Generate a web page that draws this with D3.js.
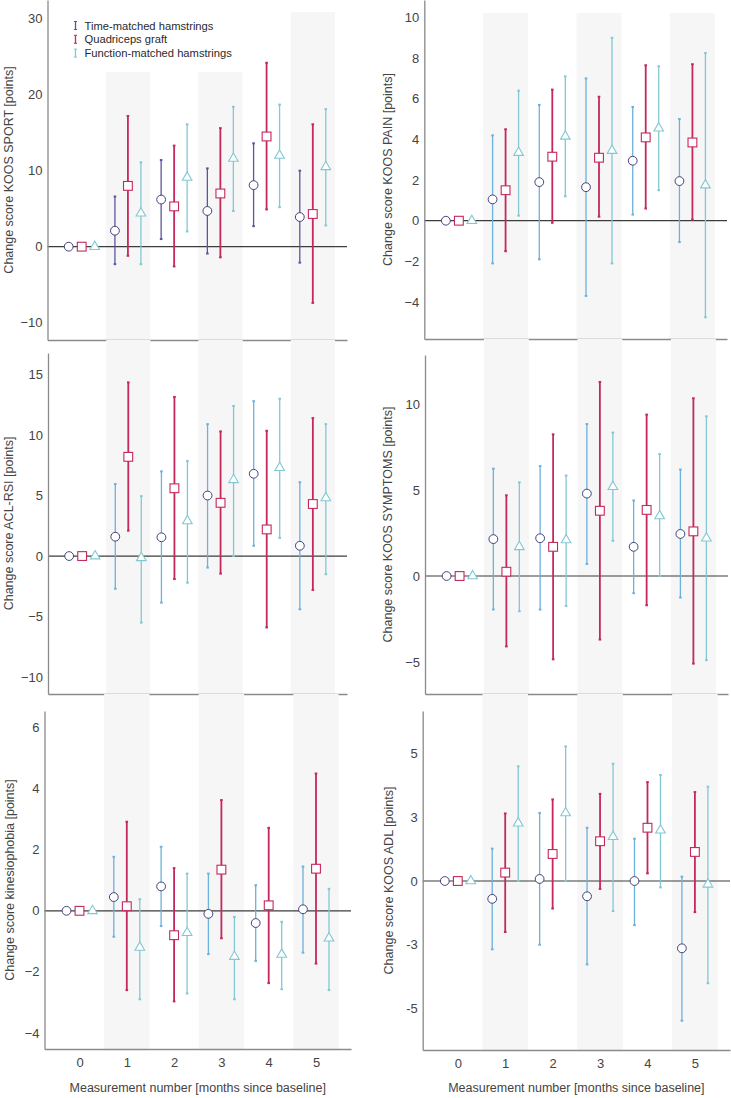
<!DOCTYPE html>
<html>
<head>
<meta charset="utf-8">
<script src="https://cdn.jsdelivr.net/npm/d3@7"></script>
<style>
  body { margin: 0; background: #fff; }
  text { font-family: "Liberation Sans", Arial, sans-serif; }
</style>
</head>
<body>
<div id="chart"></div>
<script>
(function () {

  // measurement numbers on the x axis
  const categories = [0, 1, 2, 3, 4, 5];
  const groups = ['Time-matched hamstrings', 'Quadriceps graft', 'Function-matched hamstrings'];
  const shaded = [1, 3, 5];

  // each panel: rows are [time-matched, quadriceps, function-matched]
  const sportMean = [[0, 2.1, 6.2, 4.7, 8.1, 3.9], [0, 8.0, 5.3, 7.0, 14.5, 4.3], [0, 4.4, 9.1, 11.6, 12.0, 10.5]];
  const sportLow = [[0, -2.3, 1.0, -0.9, 2.7, -2.1], [0, -1.2, -2.6, -1.4, 4.9, -7.4], [0, -2.3, 2.0, 4.7, 5.2, 2.8]];
  const sportHigh = [[0, 6.6, 11.4, 10.3, 13.6, 10.0], [0, 17.2, 13.3, 15.6, 24.2, 16.1], [0, 11.1, 16.1, 18.4, 18.7, 18.1]];

  const painMean = [[0, 1.05, 1.9, 1.65, 2.95, 1.95], [0, 1.5, 3.15, 3.1, 4.1, 3.85], [0, 3.35, 4.15, 3.45, 4.55, 1.75]];
  const painLow = [[0, -2.1, -1.9, -3.7, 0.3, -1.05], [0, -1.5, -0.1, 0.2, 0.6, 0.05], [0, 0.25, 1.2, -2.1, 1.5, -4.75]];
  const painHigh = [[0, 4.2, 5.7, 7.0, 5.6, 5.0], [0, 4.5, 6.45, 6.1, 7.65, 7.7], [0, 6.4, 7.1, 9.0, 7.6, 8.25]];

  const aclMean = [[0, 1.6, 1.55, 5.0, 6.8, 0.85], [0, 8.2, 5.6, 4.4, 2.2, 4.3], [0, -0.15, 2.9, 6.3, 7.3, 4.8]];
  const aclLow = [[0, -2.7, -3.85, -0.95, 0.85, -4.4], [0, 2.1, -1.9, -1.45, -5.9, -2.8], [0, -5.5, -2.2, 0.0, 1.5, -1.5]];
  const aclHigh = [[0, 5.95, 7.0, 10.9, 12.8, 6.1], [0, 14.35, 13.15, 10.3, 10.35, 11.4], [0, 4.95, 7.85, 12.4, 13.0, 10.9]];

  const sympMean = [[0, 2.15, 2.2, 4.8, 1.7, 2.45], [0, 0.25, 1.7, 3.8, 3.85, 2.6], [0, 1.7, 2.1, 5.2, 3.5, 2.2]];
  const sympLow = [[0, -1.95, -1.95, 0.7, -1.0, -1.25], [0, -4.1, -4.85, -3.7, -1.7, -5.1], [0, -2.05, -1.75, 2.05, 0.0, -4.9]];
  const sympHigh = [[0, 6.25, 6.4, 8.85, 4.4, 6.2], [0, 4.7, 8.25, 11.3, 9.4, 10.35], [0, 5.45, 5.85, 8.35, 7.1, 9.3]];

  const kinMean = [[0, 0.45, 0.8, -0.1, -0.4, 0.05], [0, 0.15, -0.8, 1.35, 0.18, 1.38], [0, -1.2, -0.72, -1.5, -1.43, -0.9]];
  const kinLow = [[0, -0.85, -0.5, -1.42, -1.64, -1.37], [0, -2.6, -2.97, -0.9, -2.37, -1.73], [0, -2.9, -2.71, -2.9, -2.57, -2.6]];
  const kinHigh = [[0, 1.77, 2.1, 1.22, 0.84, 1.45], [0, 2.92, 1.4, 3.63, 2.72, 4.5], [0, 0.38, 1.22, -0.2, -0.36, 0.72]];

  const adlMean = [[0, -0.7, 0.08, -0.6, 0.0, -2.64], [0, 0.33, 1.06, 1.56, 2.09, 1.14], [0, 2.27, 2.67, 1.74, 1.99, -0.13]];
  const adlLow = [[0, -2.68, -2.5, -3.27, -1.73, -5.48], [0, -2.0, -1.08, -0.31, 0.3, -1.22], [0, 0.0, 0.0, -1.18, -0.25, -4.01]];
  const adlHigh = [[0, 1.27, 2.67, 2.09, 1.66, 0.17], [0, 2.65, 3.2, 3.42, 3.88, 3.49], [0, 4.5, 5.28, 4.6, 4.16, 3.7]];

  // y tick values and their printed labels
  const sportTicks = [-10, 0, 10, 20, 30];
  const painTicks = [-4, -2, 0, 2, 4, 6, 8, 10];
  const aclTicks = [-10, -5, 0, 5, 10, 15];
  const sympTicks = [-5, 0, 5, 10];
  const kinTicks = [-4, -2, 0, 2, 4, 6];
  const adlTicks = [-5, -2.5, 0, 2.5, 5];
  const adlTickLabels = ['-5', '-3', '0', '3', '5'];

  const titles = [
    'Change score KOOS SPORT [points]',
    'Change score KOOS PAIN [points]',
    'Change score ACL-RSI [points]',
    'Change score KOOS SYMPTOMS [points]',
    'Change score kinesiophobia [points]',
    'Change score KOOS ADL [points]'
  ];
  const xTitle = 'Measurement number [months since baseline]';

  const W = 731, H = 1098;

  const svg = d3.select('#chart')
    .append('svg')
    .attr('width', W)
    .attr('height', H)
    .style('display', 'block');

  // panel placement: plot box, y domain, title position
  const panels = [
    { mean: sportMean, low: sportLow, high: sportHigh, ticks: sportTicks, title: titles[0],
      x0: 47.5, x1: 347, y0: 0, y1: 340, bandTop: 12, dom: [-12.28, 32.46], tx: 8.5, legend: true, timeColor: '#5b55a0' },
    { mean: painMean, low: painLow, high: painHigh, ticks: painTicks, title: titles[1],
      x0: 424.3, x1: 727, y0: 0, y1: 339, bandTop: 13, dom: [-5.82, 10.86], tx: 388 },
    { mean: aclMean, low: aclLow, high: aclHigh, ticks: aclTicks, title: titles[2],
      x0: 48, x1: 347, y0: 353, y1: 694, bandTop: 340, dom: [-11.4, 16.78], tx: 8.5 },
    { mean: sympMean, low: sympLow, high: sympHigh, ticks: sympTicks, title: titles[3],
      x0: 425, x1: 728, y0: 355, y1: 694, bandTop: 339, dom: [-6.87, 12.87], tx: 387.5 },
    { mean: kinMean, low: kinLow, high: kinHigh, ticks: kinTicks, title: titles[4],
      x0: 44.5, x1: 351, y0: 711, y1: 1049, bandTop: 694, dom: [-4.53, 6.55], tx: 10, bottom: true },
    { mean: adlMean, low: adlLow, high: adlHigh, ticks: adlTicks, labels: adlTickLabels, title: titles[5],
      x0: 422.7, x1: 730, y0: 711, y1: 1050, bandTop: 694, dom: [-6.63, 6.67], tx: 388.5, bottom: true }
  ];

  const quadColor = '#c4285c';
  const funcColor = '#82c8d3';
  const circleColor = '#44427f';
  const offsets = [-13, 0, 13];

  panels.forEach(p => drawPanel(p));

  function drawPanel(p) {

    const g = svg.append('g');

    const x = d3.scalePoint()
      .domain(categories)
      .range([p.x0, p.x1])
      .padding(0.74);

    const y = d3.scaleLinear()
      .domain(p.dom)
      .range([p.y1, p.y0]);

    const bw = x.step() * 0.96;

    // alternating grey columns
    g.append('g')
      .selectAll('rect')
      .data(shaded)
      .join('rect')
      .attr('x', d => x(d) - bw / 2)
      .attr('y', p.bandTop)
      .attr('width', bw)
      .attr('height', p.y1 - p.bandTop)
      .attr('fill', '#f6f6f6');

    // zero reference line
    g.append('line')
      .attr('x1', p.x0)
      .attr('x2', p.x1)
      .attr('y1', y(0))
      .attr('y2', y(0))
      .attr('stroke', '#3c3c3c')
      .attr('stroke-width', 1.2);

    // y axis
    const yAxis = d3.axisLeft(y)
      .tickValues(p.ticks)
      .tickSize(0)
      .tickPadding(5)
      .tickFormat((d, i) => p.labels ? p.labels[i] : d3.format('d')(d));

    const ya = g.append('g')
      .attr('transform', `translate(${p.x0},0)`)
      .call(yAxis);
    ya.select('.domain').attr('stroke', '#8a8a8a').attr('stroke-width', 1.3);
    ya.selectAll('text')
      .attr('font-size', 13)
      .attr('fill', '#444')
      .style('font-family', '"Liberation Sans", Arial, sans-serif');

    // x axis, labels only on the bottom row
    const xAxis = d3.axisBottom(x)
      .tickSize(0)
      .tickSizeOuter(0)
      .tickPadding(9)
      .tickFormat(d => p.bottom ? d : '');

    const xa = g.append('g')
      .attr('transform', `translate(0,${p.y1})`)
      .call(xAxis);
    xa.select('.domain').attr('stroke', '#8a8a8a').attr('stroke-width', 1.3);
    xa.selectAll('text')
      .attr('font-size', 13)
      .attr('fill', '#444')
      .style('font-family', '"Liberation Sans", Arial, sans-serif');

    // y title
    g.append('text')
      .attr('transform', `translate(${p.tx},${(p.y0 + p.y1) / 2}) rotate(-90)`)
      .attr('text-anchor', 'middle')
      .attr('dy', '0.35em')
      .attr('font-size', 12.5)
      .attr('fill', '#444')
      .text(p.title);

    if (p.bottom) {
      g.append('text')
        .attr('x', (p.x0 + p.x1) / 2)
        .attr('y', 1092)
        .attr('text-anchor', 'middle')
        .attr('font-size', 12.5)
        .attr('fill', '#444')
        .text(xTitle);
    }

    const barColors = [p.timeColor || '#6cb0dc', quadColor, funcColor];
    const barWidths = [1.3, 1.8, 1.3];

    // error bars, one group at a time
    groups.forEach((name, gi) => {
      const rows = categories
        .map((c, i) => ({ c: c, m: p.mean[gi][i], lo: p.low[gi][i], hi: p.high[gi][i] }))
        .filter(d => d.hi !== d.lo);

      const eb = g.append('g')
        .attr('stroke', barColors[gi])
        .attr('stroke-width', barWidths[gi]);

      eb.selectAll('line.bar')
        .data(rows)
        .join('line')
        .attr('class', 'bar')
        .attr('x1', d => x(d.c) + offsets[gi])
        .attr('x2', d => x(d.c) + offsets[gi])
        .attr('y1', d => y(d.lo))
        .attr('y2', d => y(d.hi));

      // small caps at both ends
      ['lo', 'hi'].forEach(k => {
        eb.selectAll('line.cap-' + k)
          .data(rows)
          .join('line')
          .attr('class', 'cap-' + k)
          .attr('x1', d => x(d.c) + offsets[gi] - 1.3)
          .attr('x2', d => x(d.c) + offsets[gi] + 1.3)
          .attr('y1', d => y(d[k]))
          .attr('y2', d => y(d[k]))
          .attr('stroke-width', 2);
      });
    });

    // markers
    const pts = gi => categories.map((c, i) => ({ c: c, m: p.mean[gi][i] }));

    g.append('g')
      .selectAll('circle')
      .data(pts(0))
      .join('circle')
      .attr('cx', d => x(d.c) + offsets[0])
      .attr('cy', d => y(d.m))
      .attr('r', 4.4)
      .attr('fill', '#fff')
      .attr('stroke', circleColor)
      .attr('stroke-width', 1);

    g.append('g')
      .selectAll('rect')
      .data(pts(1))
      .join('rect')
      .attr('x', d => x(d.c) + offsets[1] - 4.4)
      .attr('y', d => y(d.m) - 4.4)
      .attr('width', 8.8)
      .attr('height', 8.8)
      .attr('fill', '#fff')
      .attr('stroke', quadColor)
      .attr('stroke-width', 1.1);

    const tri = d3.symbol().type(d3.symbolTriangle).size(40);
    g.append('g')
      .selectAll('path')
      .data(pts(2))
      .join('path')
      .attr('d', tri)
      .attr('transform', d => `translate(${x(d.c) + offsets[2]},${y(d.m)})`)
      .attr('fill', '#fff')
      .attr('stroke', funcColor)
      .attr('stroke-width', 1.1);

    if (p.legend) drawLegend(p);
  }

  function drawLegend(p) {
    const lg = svg.append('g');

    // legend sits on a white patch that hides the shading behind it
    lg.append('rect')
      .attr('x', 58)
      .attr('y', 1)
      .attr('width', 192)
      .attr('height', 71)
      .attr('fill', '#fff');

    const colors = [p.timeColor, quadColor, funcColor];
    const rows = lg.selectAll('g')
      .data(groups)
      .join('g')
      .attr('transform', (d, i) => `translate(75.5,${25.5 + i * 13.8})`);

    rows.append('line')
      .attr('x1', 0).attr('x2', 0)
      .attr('y1', -4).attr('y2', 4)
      .attr('stroke', (d, i) => colors[i])
      .attr('stroke-width', 1.3);
    rows.append('line')
      .attr('x1', -1.6).attr('x2', 1.6)
      .attr('y1', -4).attr('y2', -4)
      .attr('stroke', (d, i) => colors[i]);
    rows.append('line')
      .attr('x1', -1.6).attr('x2', 1.6)
      .attr('y1', 4).attr('y2', 4)
      .attr('stroke', (d, i) => colors[i]);

    rows.append('text')
      .attr('x', 9)
      .attr('y', 4)
      .attr('font-size', 11.2)
      .attr('fill', '#2a2a2a')
      .text(d => d);
  }

})();
</script>
</body>
</html>
